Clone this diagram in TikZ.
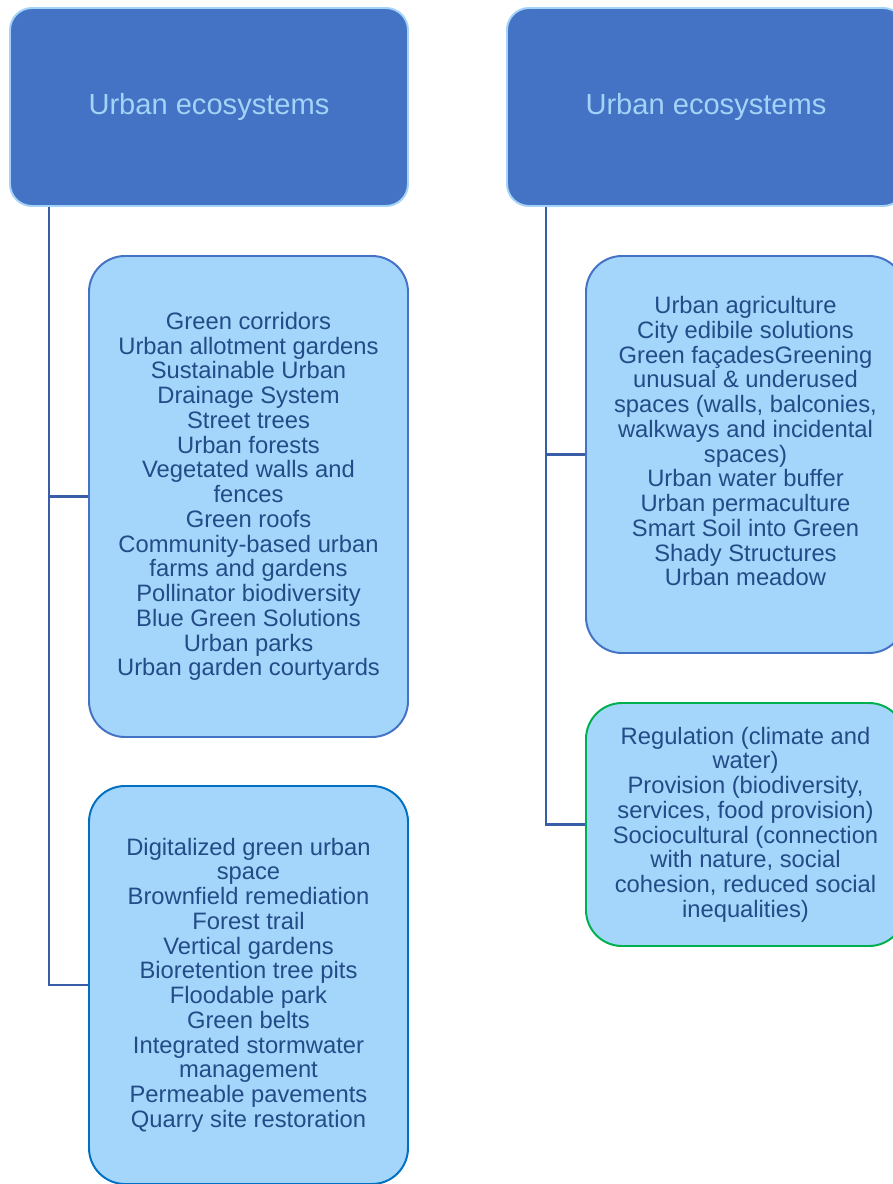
\documentclass[tikz,border=0pt]{standalone}
\usepackage{fontspec}
\setmainfont{Liberation Sans}
\usepackage{xcolor}
\usetikzlibrary{positioning}
\definecolor{headfill}{HTML}{4472C4}
\definecolor{headline}{HTML}{A3D3F7}
\definecolor{boxfill}{HTML}{A3D6FA}
\definecolor{boxtext}{HTML}{234B87}
\definecolor{boxblue}{HTML}{4472C4}
\definecolor{boxdeep}{HTML}{0070C0}
\definecolor{boxgreen}{HTML}{00B050}
\definecolor{linkblue}{HTML}{3A5DA8}

\begin{document}
\begin{tikzpicture}[>=latex]
    \tikzstyle{head} = [draw=headline, fill=headfill, line width=1.4pt, rounded corners=0.55cm, minimum width=9.95cm, minimum height=4.95cm, text=headline, font=\fontsize{20.7}{24}\selectfont]
    \tikzstyle{item} = [draw=boxblue, fill=boxfill, line width=1.4pt, rounded corners=0.9cm, minimum width=7.975cm, align=center, text=boxtext, font=\fontsize{16.9}{17.6}\selectfont]
    \tikzstyle{link} = [draw=linkblue, line width=1.8pt]

    \clip (0,0) rectangle (22.325,-29.6);
    \useasboundingbox (0,0) rectangle (22.325,-29.6);

    % left column
    \node[head] (hdrL) at (5.225,-2.675) {Urban ecosystems};
    \node[item, minimum height=12.025cm] (boxA) at (6.2125,-12.4125) {Green corridors\\Urban allotment gardens\\Sustainable Urban\\Drainage System\\Street trees\\Urban forests\\Vegetated walls and\\fences\\Green roofs\\Community-based urban\\farms and gardens\\Pollinator biodiversity\\Blue Green Solutions\\Urban parks\\Urban garden courtyards};
    \node[item, draw=boxdeep, minimum height=9.95cm] (boxB) at (6.2125,-24.625) {Digitalized green urban\\space\\Brownfield remediation\\Forest trail\\Vertical gardens\\Bioretention tree pits\\Floodable park\\Green belts\\Integrated stormwater\\management\\Permeable pavements\\Quarry site restoration};

    % right column
    \node[head] (hdrR) at (17.65,-2.675) {Urban ecosystems};
    \node[item, minimum height=9.925cm] (boxC) at (18.6375,-11.3625) {};
    \node[align=center, text=boxtext, font=\fontsize{16.9}{17.6}\selectfont] (txtC) at ([yshift=0.33cm]boxC.center) {Urban agriculture\\City edibile solutions\\Green façadesGreening\\unusual \& underused\\spaces (walls, balconies,\\walkways and incidental\\spaces)\\Urban water buffer\\Urban permaculture\\Smart Soil into Green\\Shady Structures\\Urban meadow};
    \node[item, draw=boxgreen, minimum height=6.075cm] (boxD) at (18.6375,-20.6125) {Regulation (climate and\\water)\\Provision (biodiversity,\\services, food provision)\\Sociocultural (connection\\with nature, social\\cohesion, reduced social\\inequalities)};

    \draw[link] ([xshift=1cm]hdrL.south west) |- (boxA.west);
    \draw[link] ([xshift=1cm]hdrL.south west) |- (boxB.west);
    \draw[link] ([xshift=1cm]hdrR.south west) |- (boxC.west);
    \draw[link] ([xshift=1cm]hdrR.south west) |- (boxD.west);
\end{tikzpicture}
\end{document}
